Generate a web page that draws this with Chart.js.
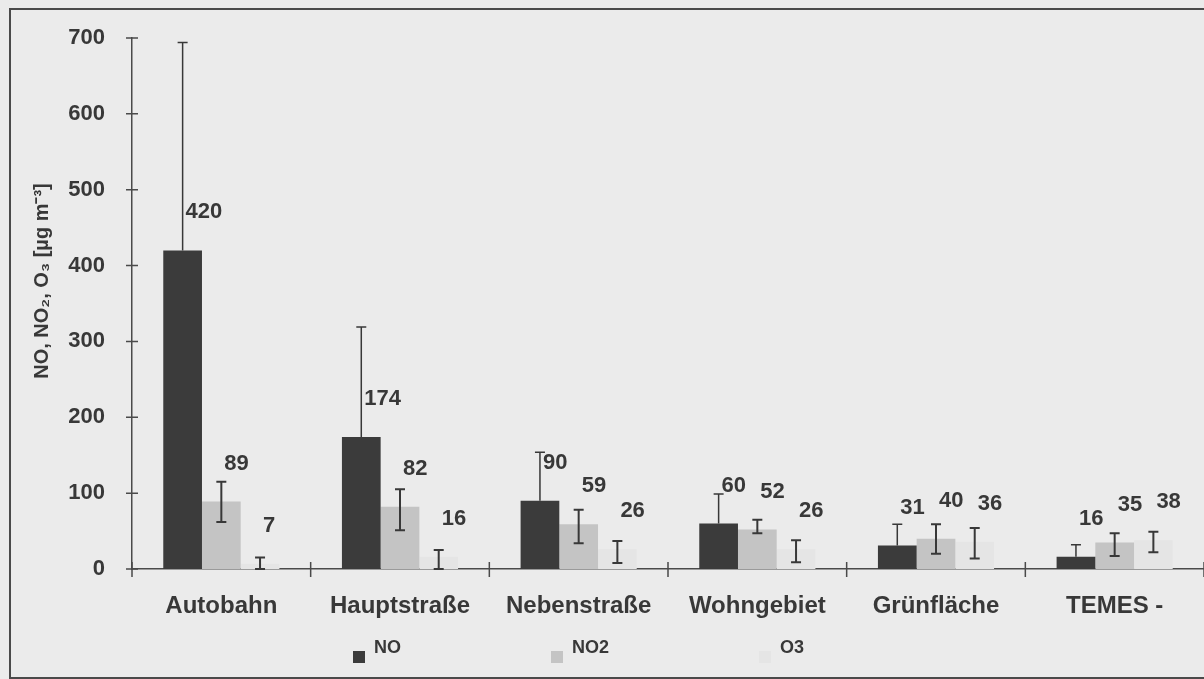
<!DOCTYPE html>
<html>
<head>
<meta charset="utf-8">
<script src="https://cdn.jsdelivr.net/npm/chart.js@4.4.1/dist/chart.umd.min.js"></script>
<style>
  html, body { margin: 0; padding: 0; background: #ebebeb; overflow: hidden; }
  #frame { position: absolute; left: 9px; top: 8px; width: 1220px; height: 667px; border: 2px solid #4a4a4a; }
  #chartCanvas { position: absolute; left: 0; top: 0; }
</style>
</head>
<body>
<div id="frame"></div>
<canvas id="chartCanvas" width="1204" height="679"></canvas>
<script>
// Values
const categories = ['Autobahn', 'Hauptstraße', 'Nebenstraße', 'Wohngebiet', 'Grünfläche', 'TEMES -'];
const seriesNames = ['NO', 'NO2', 'O3'];
const noValues = [420, 174, 90, 60, 31, 16];
const no2Values = [89, 82, 59, 52, 40, 35];
const o3Values = [7, 16, 26, 26, 36, 38];

// error bar ends (upper / lower)
const noErrHigh = [694, 319, 154, 99, 59, 32];
const noErrLow = [420, 174, 90, 60, 31, 16];
const no2ErrHigh = [115, 105, 78, 65, 59, 47];
const no2ErrLow = [62, 51, 34, 47, 20, 17];
const o3ErrHigh = [15, 25, 37, 38, 54, 49];
const o3ErrLow = [0, 0, 8, 9, 14, 22];

const yTicks = [0, 100, 200, 300, 400, 500, 600, 700];

const ink = '#383838';
const barColors = ['#3b3b3b', '#c4c4c4', '#e5e5e5'];
const errHigh = [noErrHigh, no2ErrHigh, o3ErrHigh];
const errLow = [noErrLow, no2ErrLow, o3ErrLow];
const fontFamily = '"Liberation Sans", Arial, sans-serif';

const overlay = {
  id: 'overlay',
  afterDraw(chart) {
    const ctx = chart.ctx;
    const xs = chart.scales.x;
    const ys = chart.scales.y;
    const area = chart.chartArea;

    ctx.save();
    ctx.strokeStyle = ink;

    // error bars
    chart.data.datasets.forEach((ds, i) => {
      const meta = chart.getDatasetMeta(i);
      ctx.lineWidth = i === 0 ? 1.5 : 2;
      meta.data.forEach((bar, j) => {
        const yHi = ys.getPixelForValue(errHigh[i][j]);
        const yLo = ys.getPixelForValue(errLow[i][j]);
        ctx.beginPath();
        ctx.moveTo(bar.x, yHi);
        ctx.lineTo(bar.x, yLo);
        ctx.moveTo(bar.x - 5, yHi);
        ctx.lineTo(bar.x + 5, yHi);
        if (errLow[i][j] !== ds.data[j]) {
          ctx.moveTo(bar.x - 5, yLo);
          ctx.lineTo(bar.x + 5, yLo);
        }
        ctx.stroke();
      });
    });

    // value labels
    ctx.fillStyle = ink;
    ctx.font = 'bold 22px ' + fontFamily;
    ctx.textAlign = 'left';
    ctx.textBaseline = 'middle';
    chart.data.datasets.forEach((ds, i) => {
      const meta = chart.getDatasetMeta(i);
      meta.data.forEach((bar, j) => {
        ctx.fillText(String(ds.data[j]), bar.x + 3, bar.y - 38);
      });
    });

    // tick marks crossing the axes
    ctx.lineWidth = 1.5;
    ctx.strokeStyle = '#4a4a4a';
    ctx.beginPath();
    yTicks.forEach(v => {
      const y = ys.getPixelForValue(v);
      ctx.moveTo(area.left - 6, y);
      ctx.lineTo(area.left + 6, y);
    });
    for (let k = 0; k <= categories.length; k++) {
      const x = xs.getPixelForValue(k - 0.5);
      ctx.moveTo(x, area.bottom - 7);
      ctx.lineTo(x, area.bottom + 8);
    }
    ctx.stroke();

    // y axis title
    ctx.save();
    ctx.translate(42, 281);
    ctx.rotate(-Math.PI / 2);
    ctx.textAlign = 'center';
    ctx.font = 'bold 20px ' + fontFamily;
    ctx.fillText('NO, NO\u2082, O\u2083 [\u00b5g m\u207b\u00b3]', 0, 0);
    ctx.restore();

    // legend
    ctx.font = 'bold 18px ' + fontFamily;
    ctx.textAlign = 'left';
    let lx = 353;
    chart.data.datasets.forEach(ds => {
      ctx.fillStyle = ds.backgroundColor;
      ctx.fillRect(lx, 651, 12, 12);
      ctx.fillStyle = ink;
      ctx.fillText(ds.label, lx + 21, 648);
      lx += 21 + ctx.measureText(ds.label).width + 150;
    });

    ctx.restore();
  }
};

const ctx = document.getElementById('chartCanvas').getContext('2d');

new Chart(ctx, {
  type: 'bar',
  data: {
    labels: categories,
    datasets: [
      { label: seriesNames[0], data: noValues, backgroundColor: barColors[0] },
      { label: seriesNames[1], data: no2Values, backgroundColor: barColors[1] },
      { label: seriesNames[2], data: o3Values, backgroundColor: barColors[2] }
    ]
  },
  options: {
    responsive: false,
    animation: false,
    layout: { padding: { top: 38, left: 0, right: 0, bottom: 0 } },
    datasets: {
      bar: { categoryPercentage: 0.65, barPercentage: 1.0, borderWidth: 0 }
    },
    plugins: {
      legend: { display: false },
      tooltip: { enabled: false }
    },
    scales: {
      x: {
        offset: true,
        grid: { display: false },
        border: { display: true, color: '#4a4a4a', width: 1.5 },
        ticks: {
          color: ink,
          padding: 15,
          maxRotation: 0,
          font: { family: fontFamily, size: 24, weight: 'bold' }
        },
        afterFit: s => { s.height = 110; }
      },
      y: {
        min: 0,
        max: 700,
        afterBuildTicks: s => { s.ticks = yTicks.map(v => ({ value: v })); },
        grid: { display: false },
        border: { display: true, color: '#4a4a4a', width: 1.5 },
        ticks: {
          color: ink,
          padding: 19,
          font: { family: fontFamily, size: 22, weight: 'bold' }
        },
        afterFit: s => { s.width = 132; }
      }
    }
  },
  plugins: [overlay]
});
</script>
</body>
</html>
